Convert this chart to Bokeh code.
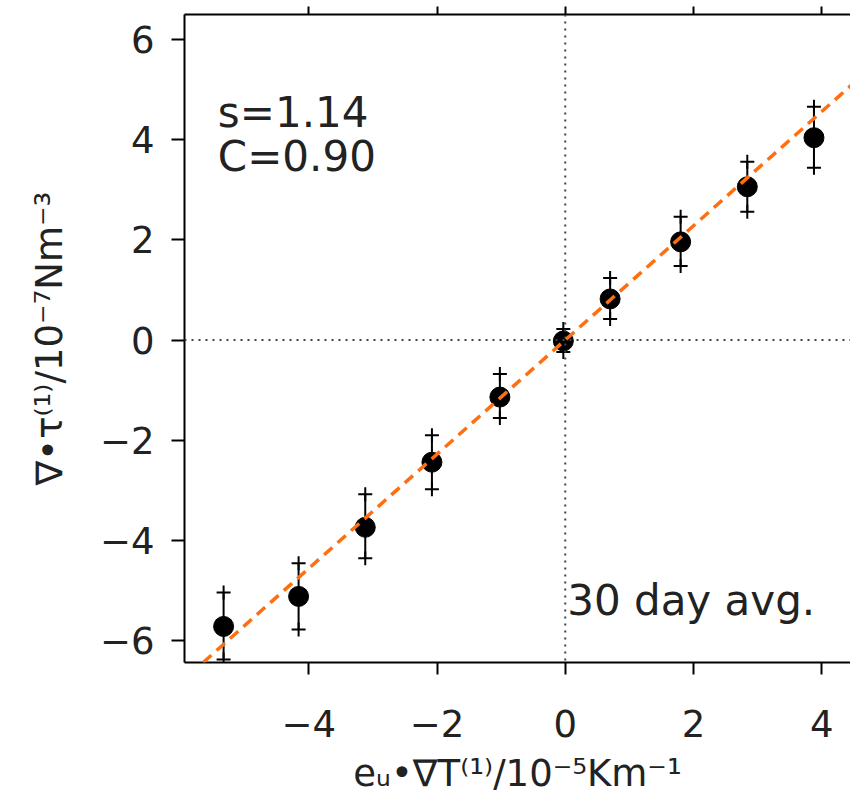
from bokeh.plotting import figure
from bokeh.models import Range1d, FixedTicker, LinearAxis, Span, Label, Slope
from bokeh.embed import file_html
from bokeh.resources import INLINE

# ---- data ----
x_vals = [-5.33, -4.16, -3.12, -2.08, -1.02, -0.03, 0.70, 1.80, 2.84, 3.88]
y_vals = [-5.72, -5.12, -3.74, -2.44, -1.14, -0.02, 0.82, 1.96, 3.06, 4.04]
y_upper = [-5.04, -4.46, -3.08, -1.90, -0.68, 0.22, 1.24, 2.46, 3.56, 4.66]
y_lower = [-6.38, -5.78, -4.36, -2.98, -1.56, -0.24, 0.42, 1.48, 2.56, 3.44]
fit_slope = 1.14
fit_intercept = 0.0
corr = 0.90

x_ticks = [-4, -2, 0, 2, 4]
x_tick_labels = ["\u22124", "\u22122", "0", "2", "4"]
y_ticks = [-6, -4, -2, 0, 2, 4, 6]
y_tick_labels = ["\u22126", "\u22124", "\u22122", "0", "2", "4", "6"]

x_label = "e\u1d64\u2022\u2207T\u207d\u00b9\u207e/10\u207b\u2075Km\u207b\u00b9"
y_label = "\u2207\u2022\u03c4\u207d\u00b9\u207e/10\u207b\u2077Nm\u207b\u00b3"
note_s = "s=%.2f" % fit_slope
note_c = "C=%.2f" % corr
note_avg = "30 day avg."

FONT = "DejaVu Sans"
ORANGE = "#ff6f10"

p = figure(width=850, height=798, output_backend="svg", toolbar_location=None,
           x_range=Range1d(-5.94, 4.45), y_range=Range1d(-6.44, 6.5),
           min_border_left=184, min_border_right=0, min_border_top=14,
           min_border_bottom=136)
p.outline_line_color = None
p.grid.visible = False
p.background_fill_color = "white"
p.border_fill_color = "white"

def style_axis(ax, ticks, labels, tick_out, standoff, font_size):
    ax.ticker = FixedTicker(ticks=ticks)
    ax.major_label_overrides = {t: l for t, l in zip(ticks, labels)}
    ax.major_tick_in = 0
    ax.major_tick_out = tick_out
    ax.minor_tick_line_color = None
    ax.axis_line_width = 2
    ax.axis_line_color = "black"
    ax.major_tick_line_width = 2
    ax.major_tick_line_color = "black"
    ax.major_label_standoff = standoff
    ax.major_label_text_font = FONT
    ax.major_label_text_font_size = font_size
    ax.major_label_text_color = "#222222"
    ax.axis_label_text_font = FONT
    ax.axis_label_text_font_style = "normal"
    ax.axis_label_text_font_size = "37px"
    ax.axis_label_text_color = "#222222"

style_axis(p.xaxis[0], x_ticks, x_tick_labels, 12, 35, "37px")
style_axis(p.yaxis[0], y_ticks, y_tick_labels, 13, 17, "37px")
p.xaxis[0].axis_label = x_label
p.xaxis[0].axis_label_standoff = 12
p.yaxis[0].axis_label = y_label
p.yaxis[0].axis_label_standoff = 26

top = LinearAxis()
style_axis(top, x_ticks, ["" for _ in x_ticks], 8, 0, "0px")
top.major_label_text_font_size = "0px"
p.add_layout(top, "above")

# zero lines
p.add_layout(Span(location=0, dimension="height", line_color="#444444",
                  line_width=2, line_dash="2 5"))
p.add_layout(Span(location=0, dimension="width", line_color="#444444",
                  line_width=2, line_dash="2 5"))

# error bars with "+" caps
p.segment(x0=x_vals, y0=y_lower, x1=x_vals, y1=y_upper, line_color="black", line_width=2)
p.scatter(x_vals, y_upper, marker="cross", size=14, line_color="black", line_width=2)
p.scatter(x_vals, y_lower, marker="cross", size=14, line_color="black", line_width=2)
# points
p.scatter(x_vals, y_vals, marker="circle", size=20, fill_color="black", line_color="black")

# fitted line
p.add_layout(Slope(gradient=fit_slope, y_intercept=fit_intercept, line_color=ORANGE,
                   line_width=3.5, line_dash="11 7"))

# annotations
for txt, xx, yy in [(note_s, -5.42, 4.54), (note_c, -5.42, 3.66), (note_avg, 0.03, -5.2)]:
    p.add_layout(Label(x=xx, y=yy, text=txt, text_font=FONT, text_font_size="42px",
                       text_color="#222222", text_baseline="alphabetic", text_align="left"))

open("out.html", "w").write(file_html(p, INLINE))
